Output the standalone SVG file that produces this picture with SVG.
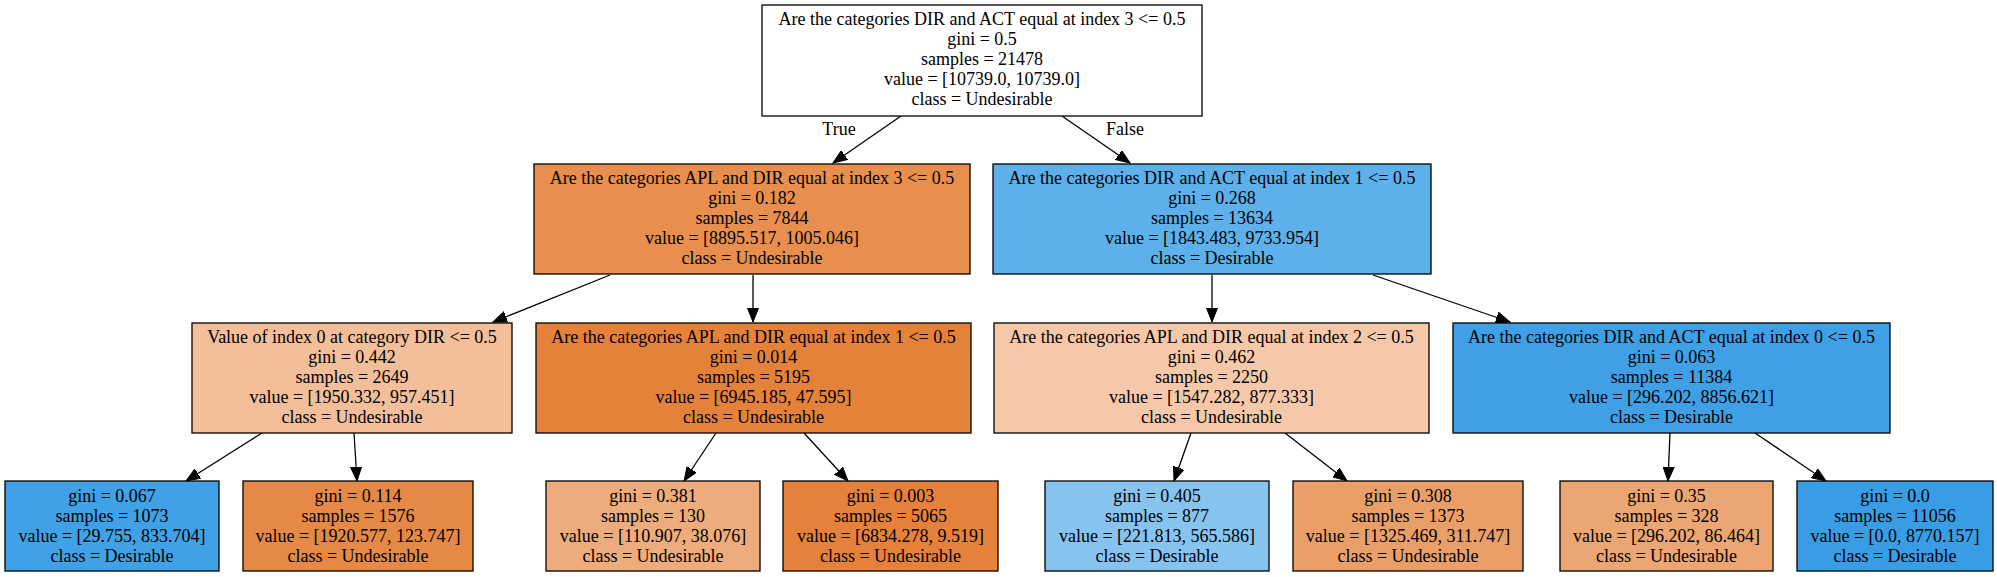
<svg xmlns="http://www.w3.org/2000/svg" width="1997" height="577" viewBox="0 0 1997 577">
<defs>
<style>
.box{stroke:#000;stroke-width:1.3}
.t{font-family:"Liberation Serif","Times New Roman",serif;font-size:18px;text-anchor:middle;fill:#000}
.e{stroke:#000;stroke-width:1.3;fill:none;marker-end:url(#ah)}
</style>
<marker id="ah" markerUnits="userSpaceOnUse" markerWidth="16" markerHeight="12" refX="14" refY="6" orient="auto" viewBox="0 0 16 12">
<path d="M0,0.5 L14,6 L0,11.5 Z" fill="#000" stroke="#000" stroke-width="1"/>
</marker>
</defs>
<rect width="1997" height="577" fill="#fff"/>
<g id="edges">
<path class="e" d="M901,116 L833,163"/>
<path class="e" d="M1062,116 L1130,163"/>
<path class="e" d="M610,275 L493,322"/>
<path class="e" d="M753,275 L753,322"/>
<path class="e" d="M1212,275 L1212,322"/>
<path class="e" d="M1373,275 L1510,322"/>
<path class="e" d="M262,433 L186,481"/>
<path class="e" d="M354,433 L357,481"/>
<path class="e" d="M716,433 L684,481"/>
<path class="e" d="M804,433 L848,481"/>
<path class="e" d="M1191,433 L1174,481"/>
<path class="e" d="M1285,433 L1347,481"/>
<path class="e" d="M1670,433 L1668,481"/>
<path class="e" d="M1755,433 L1826,481"/>
<text class="t" x="839" y="135">True</text>
<text class="t" x="1125" y="135">False</text>
</g>
<g id="n0">
<rect class="box" x="762" y="5" width="440" height="111" fill="#ffffff"/>
<text class="t" x="982" y="25">Are the categories DIR and ACT equal at index 3 &lt;= 0.5</text>
<text class="t" x="982" y="45">gini = 0.5</text>
<text class="t" x="982" y="65">samples = 21478</text>
<text class="t" x="982" y="85">value = [10739.0, 10739.0]</text>
<text class="t" x="982" y="105">class = Undesirable</text>
</g>
<g id="n1">
<rect class="box" x="534" y="164" width="436" height="110" fill="#e88f4f"/>
<text class="t" x="752" y="184">Are the categories APL and DIR equal at index 3 &lt;= 0.5</text>
<text class="t" x="752" y="204">gini = 0.182</text>
<text class="t" x="752" y="224">samples = 7844</text>
<text class="t" x="752" y="244">value = [8895.517, 1005.046]</text>
<text class="t" x="752" y="264">class = Undesirable</text>
</g>
<g id="n2">
<rect class="box" x="993" y="164" width="438" height="110" fill="#5eb0ea"/>
<text class="t" x="1212" y="184">Are the categories DIR and ACT equal at index 1 &lt;= 0.5</text>
<text class="t" x="1212" y="204">gini = 0.268</text>
<text class="t" x="1212" y="224">samples = 13634</text>
<text class="t" x="1212" y="244">value = [1843.483, 9733.954]</text>
<text class="t" x="1212" y="264">class = Desirable</text>
</g>
<g id="n3">
<rect class="box" x="192" y="323" width="320" height="110" fill="#f2bf9a"/>
<text class="t" x="352" y="343">Value of index 0 at category DIR &lt;= 0.5</text>
<text class="t" x="352" y="363">gini = 0.442</text>
<text class="t" x="352" y="383">samples = 2649</text>
<text class="t" x="352" y="403">value = [1950.332, 957.451]</text>
<text class="t" x="352" y="423">class = Undesirable</text>
</g>
<g id="n4">
<rect class="box" x="536" y="323" width="435" height="110" fill="#e5823a"/>
<text class="t" x="753.5" y="343">Are the categories APL and DIR equal at index 1 &lt;= 0.5</text>
<text class="t" x="753.5" y="363">gini = 0.014</text>
<text class="t" x="753.5" y="383">samples = 5195</text>
<text class="t" x="753.5" y="403">value = [6945.185, 47.595]</text>
<text class="t" x="753.5" y="423">class = Undesirable</text>
</g>
<g id="n5">
<rect class="box" x="994" y="323" width="435" height="110" fill="#f4c8a9"/>
<text class="t" x="1211.5" y="343">Are the categories APL and DIR equal at index 2 &lt;= 0.5</text>
<text class="t" x="1211.5" y="363">gini = 0.462</text>
<text class="t" x="1211.5" y="383">samples = 2250</text>
<text class="t" x="1211.5" y="403">value = [1547.282, 877.333]</text>
<text class="t" x="1211.5" y="423">class = Undesirable</text>
</g>
<g id="n6">
<rect class="box" x="1453" y="323" width="437" height="110" fill="#40a0e6"/>
<text class="t" x="1671.5" y="343">Are the categories DIR and ACT equal at index 0 &lt;= 0.5</text>
<text class="t" x="1671.5" y="363">gini = 0.063</text>
<text class="t" x="1671.5" y="383">samples = 11384</text>
<text class="t" x="1671.5" y="403">value = [296.202, 8856.621]</text>
<text class="t" x="1671.5" y="423">class = Desirable</text>
</g>
<g id="n7">
<rect class="box" x="5" y="481" width="214" height="90" fill="#40a1e6"/>
<text class="t" x="112" y="502">gini = 0.067</text>
<text class="t" x="112" y="522">samples = 1073</text>
<text class="t" x="112" y="542">value = [29.755, 833.704]</text>
<text class="t" x="112" y="562">class = Desirable</text>
</g>
<g id="n8">
<rect class="box" x="243" y="481" width="230" height="90" fill="#e78946"/>
<text class="t" x="358" y="502">gini = 0.114</text>
<text class="t" x="358" y="522">samples = 1576</text>
<text class="t" x="358" y="542">value = [1920.577, 123.747]</text>
<text class="t" x="358" y="562">class = Undesirable</text>
</g>
<g id="n9">
<rect class="box" x="546" y="481" width="214" height="90" fill="#eeac7d"/>
<text class="t" x="653" y="502">gini = 0.381</text>
<text class="t" x="653" y="522">samples = 130</text>
<text class="t" x="653" y="542">value = [110.907, 38.076]</text>
<text class="t" x="653" y="562">class = Undesirable</text>
</g>
<g id="n10">
<rect class="box" x="783" y="481" width="215" height="90" fill="#e5813a"/>
<text class="t" x="890.5" y="502">gini = 0.003</text>
<text class="t" x="890.5" y="522">samples = 5065</text>
<text class="t" x="890.5" y="542">value = [6834.278, 9.519]</text>
<text class="t" x="890.5" y="562">class = Undesirable</text>
</g>
<g id="n11">
<rect class="box" x="1045" y="481" width="224" height="90" fill="#87c3ef"/>
<text class="t" x="1157" y="502">gini = 0.405</text>
<text class="t" x="1157" y="522">samples = 877</text>
<text class="t" x="1157" y="542">value = [221.813, 565.586]</text>
<text class="t" x="1157" y="562">class = Desirable</text>
</g>
<g id="n12">
<rect class="box" x="1293" y="481" width="230" height="90" fill="#eb9f68"/>
<text class="t" x="1408" y="502">gini = 0.308</text>
<text class="t" x="1408" y="522">samples = 1373</text>
<text class="t" x="1408" y="542">value = [1325.469, 311.747]</text>
<text class="t" x="1408" y="562">class = Undesirable</text>
</g>
<g id="n13">
<rect class="box" x="1560" y="481" width="213" height="90" fill="#eca673"/>
<text class="t" x="1666.5" y="502">gini = 0.35</text>
<text class="t" x="1666.5" y="522">samples = 328</text>
<text class="t" x="1666.5" y="542">value = [296.202, 86.464]</text>
<text class="t" x="1666.5" y="562">class = Undesirable</text>
</g>
<g id="n14">
<rect class="box" x="1797" y="481" width="196" height="90" fill="#399de5"/>
<text class="t" x="1895" y="502">gini = 0.0</text>
<text class="t" x="1895" y="522">samples = 11056</text>
<text class="t" x="1895" y="542">value = [0.0, 8770.157]</text>
<text class="t" x="1895" y="562">class = Desirable</text>
</g>
</svg>
